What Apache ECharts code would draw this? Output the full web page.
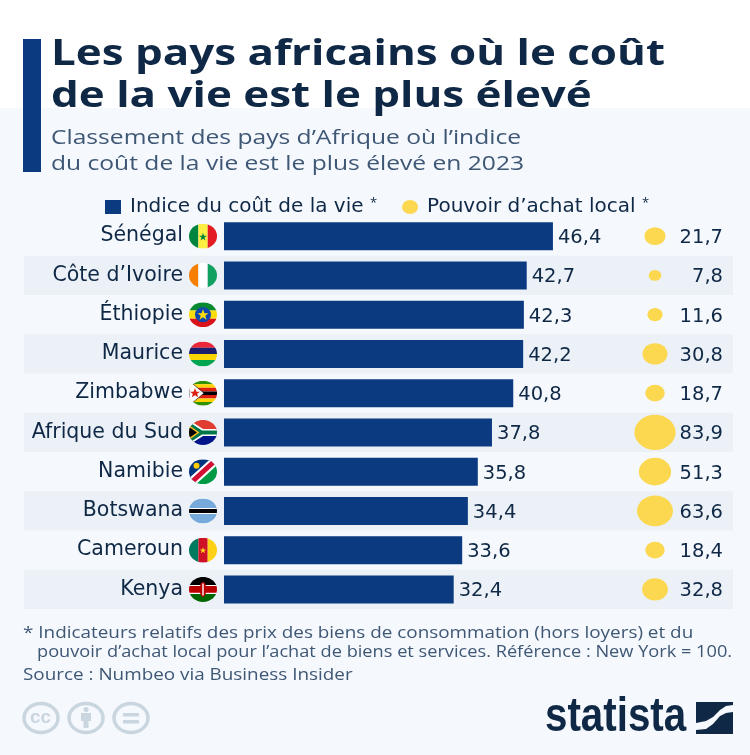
<!DOCTYPE html>
<html>
<head>
    <meta charset="utf-8">
    <title>Les pays africains où le coût de la vie est le plus élevé</title>
    <script src="https://cdn.jsdelivr.net/npm/echarts@6/dist/echarts.min.js"></script>
    <style type="text/css">
        html, body { margin: 0; padding: 0; background: #f5f8fc; }
        #main { width: 750px; height: 755px; }
    </style>
</head>
<body>
    <div id="main"></div>

    <script type="text/javascript">

        var countries = ['Sénégal', 'Côte d’Ivoire', 'Éthiopie', 'Maurice', 'Zimbabwe', 'Afrique du Sud', 'Namibie', 'Botswana', 'Cameroun', 'Kenya'];
        var costIndex = [46.4, 42.7, 42.3, 42.2, 40.8, 37.8, 35.8, 34.4, 33.6, 32.4];
        var purchasingPower = [21.7, 7.8, 11.6, 30.8, 18.7, 83.9, 51.3, 63.6, 18.4, 32.8];

        var costName = 'Indice du coût de la vie';
        var powerName = 'Pouvoir d’achat local';

        var font = '"Open Sans", "Noto Sans", sans-serif';
        var wideFont = '"DejaVu Sans", "Open Sans", sans-serif';
        var navy = '#0f2846';
        var blue = '#0b3a80';
        var yellow = '#fbd850';
        var slate = '#3e5775';
        var ccGrey = '#c9d5df';

        // flags are small svg pictures, clipped to the ellipse
        var flagArt = [
            '<rect width="9.4" height="25" fill="#00853f"/><rect x="9.4" width="9.3" height="25" fill="#fdef42"/><rect x="18.7" width="9.3" height="25" fill="#e31b23"/><path d="M14 9l1 3h3l-2.500 1.900 1 3-2.500-1.900-2.500 1.900 1-3L10 12h3z" fill="#00853f"/>',
            '<rect width="9.4" height="25" fill="#f77f00"/><rect x="9.4" width="9.3" height="25" fill="#fff"/><rect x="18.7" width="9.3" height="25" fill="#10a060"/>',
            '<rect width="28" height="8.400" fill="#078930"/><rect y="8.400" width="28" height="8.300" fill="#fcdd09"/><rect y="16.700" width="28" height="8.300" fill="#da121a"/><ellipse cx="14" cy="12.500" rx="8" ry="7.500" fill="#0f47af"/><path d="M14 7l1.500 4h4l-3.200 2.500 1.200 4-3.500-2.400-3.500 2.400 1.200-4L8.500 11h4z" fill="#fcdd09"/>',
            '<rect width="28" height="6.300" fill="#ea2839"/><rect y="6.300" width="28" height="6.200" fill="#1a206d"/><rect y="12.500" width="28" height="6.200" fill="#ffd500"/><rect y="18.700" width="28" height="6.300" fill="#00a551"/>',
            '<rect width="28" height="25" fill="#fff"/><rect width="28" height="3.600" fill="#319208"/><rect y="3.600" width="28" height="3.600" fill="#ffd200"/><rect y="7.200" width="28" height="3.600" fill="#de2010"/><rect y="10.800" width="28" height="3.500" fill="#000"/><rect y="14.300" width="28" height="3.500" fill="#de2010"/><rect y="17.800" width="28" height="3.600" fill="#ffd200"/><rect y="21.400" width="28" height="3.600" fill="#319208"/><path d="M0 0L15 12.500 0 25z" fill="#fff" stroke="#000" stroke-width=".6"/><path d="M6 7.500l1.500 3.500h3.500l-2.800 2.200 1 3.500-3.200-2.100-3.200 2.100 1-3.500L1 11h3.500z" fill="#de2010"/>',
            '<rect width="28" height="12.500" fill="#e03c31"/><rect y="12.500" width="28" height="12.500" fill="#001489"/><path d="M0 0l14 9h14v7H14L0 25z" fill="#fff"/><path d="M0 2l13 8.500h15v4H13L0 23z" fill="#007749"/><path d="M0 5l10.500 7.500L0 20z" fill="#ffb81c"/><path d="M0 7l8 5.500L0 18z" fill="#000"/>',
            '<path d="M0 25V0h28z" fill="#003580"/><path d="M28 0v25H0z" fill="#009a44"/><path d="M0 19L21 0h7v6L7 25H0z" fill="#fff"/><path d="M0 22L24 0h4v3L4 25H0z" fill="#d21034"/><circle cx="7.500" cy="6.500" r="3" fill="#ffce00"/>',
            '<rect width="28" height="25" fill="#75aadb"/><rect y="9.500" width="28" height="6" fill="#fff"/><rect y="10.500" width="28" height="4" fill="#000"/>',
            '<rect width="9.4" height="25" fill="#007a5e"/><rect x="9.4" width="9.3" height="25" fill="#ce1126"/><rect x="18.7" width="9.3" height="25" fill="#fcd116"/><path d="M14 9.500l.9 2.300h2.400l-2 1.500.8 2.400-2.100-1.500-2.100 1.500.8-2.400-2-1.500h2.400z" fill="#fcd116"/>',
            '<rect width="28" height="8" fill="#000"/><rect y="8" width="28" height="9" fill="#fff"/><rect y="9.200" width="28" height="6.600" fill="#bb0000"/><rect y="17" width="28" height="8" fill="#006600"/><ellipse cx="14" cy="12.500" rx="3.300" ry="7.500" fill="#bb0000"/><rect x="13.300" y="6.500" width="1.400" height="12" fill="#fff"/>'
        ];

        function flagUri(art) {
            var svg = '<svg xmlns="http://www.w3.org/2000/svg" width="84" height="75" viewBox="0 0 28 25">'
                + '<defs><clipPath id="c"><ellipse cx="14" cy="12.500" rx="14" ry="12.500"/></clipPath></defs>'
                + '<g clip-path="url(#c)">' + art + '</g></svg>';
            return 'data:image/svg+xml;charset=utf-8,' + encodeURIComponent(svg);
        }

        var labelRich = {
            name: { fontFamily: wideFont, fontSize: 20.5, color: navy, padding: [0, 6, 0, 0] }
        };
        flagArt.forEach(function (art, i) {
            labelRich['f' + i] = { width: 28, height: 25, backgroundColor: { image: flagUri(art) } };
        });

        function comma(v) {
            return v.toFixed(1).replace('.', ',');
        }

        var chart = echarts.init(document.getElementById('main'));

        var option = {
            backgroundColor: '#f5f8fc',
            animation: false,
            legend: {
                left: 100,
                top: 192,
                itemWidth: 16,
                itemHeight: 14,
                itemGap: 25,
                selectedMode: false,
                data: [
                    { name: costName, icon: 'rect' },
                    // slightly oval, the dots in the reference are too
                    { name: powerName, icon: 'path://M0 7a8 7 0 1 0 16 0a8 7 0 1 0 -16 0z' }
                ],
                formatter: function (name) {
                    return name + ' {s|*}';
                },
                textStyle: {
                    fontFamily: wideFont,
                    fontSize: 20,
                    color: navy,
                    padding: [0, 0, 0, 4],
                    rich: { s: { fontFamily: font, fontSize: 13, color: navy, verticalAlign: 'top', padding: [0, 0, 6, 0] } }
                }
            },
            grid: [
                { left: 24, top: 216.5, width: 709, height: 392.5 },
                { left: 224, top: 216.5, width: 509, height: 392.5 },
                { left: 625, top: 216.5, width: 60, height: 392.5 }
            ],
            xAxis: [
                { gridIndex: 0, type: 'value', show: false },
                { gridIndex: 1, type: 'value', min: 0, max: 71.8, show: false },
                { gridIndex: 2, type: 'category', data: [powerName], show: false }
            ],
            yAxis: [
                {
                    gridIndex: 0,
                    type: 'category',
                    inverse: true,
                    data: countries,
                    axisLine: { show: false },
                    axisTick: { show: false },
                    axisLabel: { show: false },
                    splitArea: { show: true, areaStyle: { color: ['rgba(0,0,0,0)', '#ecf1f7'] } }
                },
                {
                    gridIndex: 1,
                    type: 'category',
                    inverse: true,
                    data: countries,
                    axisLine: { show: false },
                    axisTick: { show: false },
                    axisLabel: {
                        margin: 7,
                        formatter: function (value, i) {
                            return '{name|' + value + '}{f' + i + '|}';
                        },
                        rich: labelRich
                    }
                },
                {
                    gridIndex: 2,
                    type: 'category',
                    inverse: true,
                    data: countries,
                    show: false
                }
            ],
            series: [
                {
                    name: costName,
                    type: 'bar',
                    xAxisIndex: 1,
                    yAxisIndex: 1,
                    data: costIndex,
                    barWidth: 28,
                    itemStyle: { color: blue },
                    label: {
                        show: true,
                        position: 'right',
                        distance: 5,
                        offset: [0, 2],
                        fontFamily: wideFont,
                        fontSize: 19.5,
                        color: navy,
                        formatter: function (p) { return comma(p.value); }
                    }
                },
                {
                    name: powerName,
                    type: 'scatter',
                    xAxisIndex: 2,
                    yAxisIndex: 2,
                    data: purchasingPower.map(function (v, i) { return [powerName, countries[i], v]; }),
                    // area follows the value, a bit wider than tall like the original
                    symbolSize: function (val) {
                        return [4.5 * Math.sqrt(val[2]), 3.85 * Math.sqrt(val[2])];
                    },
                    itemStyle: { color: yellow, opacity: 1 },
                    label: {
                        show: true,
                        position: 'inside',
                        offset: [68, 2],
                        align: 'right',
                        fontFamily: wideFont,
                        fontSize: 19.5,
                        color: navy,
                        formatter: function (p) { return comma(p.value[2]); }
                    }
                }
            ],
            graphic: [
                { type: 'rect', shape: { x: 0, y: 0, width: 750, height: 108 }, style: { fill: '#ffffff' }, z: -10 },
                { type: 'rect', shape: { x: 23, y: 39, width: 18, height: 133 }, style: { fill: blue } },
                // the reference text is stretched sideways, so scaleX follows it
                {
                    type: 'text', x: 51, y: 34, scaleX: 1.22,
                    style: { text: 'Les pays africains où le coût\nde la vie est le plus élevé', font: '700 36px ' + font, fill: navy, lineHeight: 42 }
                },
                {
                    type: 'text', x: 51, y: 125, scaleX: 1.2,
                    style: { text: 'Classement des pays d’Afrique où l’indice\ndu coût de la vie est le plus élevé en 2023', font: '20.5px ' + font, fill: slate, lineHeight: 26 }
                },
                {
                    type: 'text', x: 23, y: 625, scaleX: 1.18,
                    style: { text: '* Indicateurs relatifs des prix des biens de consommation (hors loyers) et du', font: '16px ' + font, fill: slate }
                },
                {
                    type: 'text', x: 37, y: 644, scaleX: 1.137,
                    style: { text: 'pouvoir d’achat local pour l’achat de biens et services. Référence : New York = 100.', font: '16px ' + font, fill: slate }
                },
                {
                    type: 'text', x: 23, y: 667, scaleX: 1.11,
                    style: { text: 'Source : Numbeo via Business Insider', font: '17px ' + font, fill: slate }
                },
                { type: 'ellipse', shape: { cx: 41, cy: 718, rx: 17, ry: 14.500 }, style: { fill: 'none', stroke: ccGrey, lineWidth: 3.500 } },
                { type: 'text', x: 30, y: 708, style: { text: 'cc', font: 'bold 19px "Liberation Sans", sans-serif', fill: ccGrey } },
                { type: 'ellipse', shape: { cx: 86, cy: 718, rx: 17, ry: 14.500 }, style: { fill: 'none', stroke: ccGrey, lineWidth: 3.500 } },
                { type: 'circle', shape: { cx: 86, cy: 709.500, r: 2.500 }, style: { fill: ccGrey } },
                { type: 'rect', shape: { x: 81, y: 713, width: 10, height: 8 }, style: { fill: ccGrey } },
                { type: 'rect', shape: { x: 83.500, y: 720, width: 5, height: 8 }, style: { fill: ccGrey } },
                { type: 'ellipse', shape: { cx: 131, cy: 718, rx: 17, ry: 14.500 }, style: { fill: 'none', stroke: ccGrey, lineWidth: 3.500 } },
                { type: 'rect', shape: { x: 123, y: 713, width: 16, height: 3.500 }, style: { fill: ccGrey } },
                { type: 'rect', shape: { x: 123, y: 720, width: 16, height: 3.500 }, style: { fill: ccGrey } },
                {
                    type: 'text', x: 545, y: 694, scaleX: 0.84,
                    style: { text: 'statista', font: 'bold 48px "Liberation Sans", sans-serif', fill: navy }
                },
                // logo mark, two dark pieces either side of the swoosh
                {
                    type: 'polygon',
                    shape: { points: [[696, 702], [733, 702], [733, 705], [726, 706], [720, 710], [713, 717], [706, 721], [696, 723]] },
                    style: { fill: navy }
                },
                {
                    type: 'polygon',
                    shape: { points: [[733, 712], [733, 734], [696, 734], [696, 730], [706, 729], [713, 724], [720, 716], [726, 713]] },
                    style: { fill: navy }
                }
            ]
        };

        chart.setOption(option);

    </script>
</body>
</html>
